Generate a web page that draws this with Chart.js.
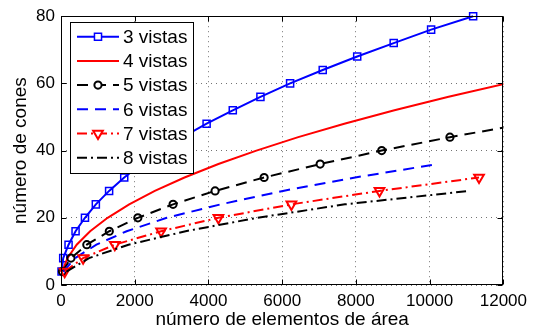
<!DOCTYPE html>
<html>
<head>
<meta charset="utf-8">
<script src="https://cdn.jsdelivr.net/npm/chart.js@4/dist/chart.umd.min.js"></script>
<style>
  html, body { margin: 0; padding: 0; background: #fff; }
  #wrap { width: 533px; height: 333px; }
</style>
</head>
<body>
<div id="wrap"><canvas id="c" width="533" height="333"></canvas></div>
<script>
// Legend labels, one per series
const seriesLabels = ['3 vistas', '4 vistas', '5 vistas', '6 vistas', '7 vistas', '8 vistas'];

// número de elementos de área (x) / número de cones (y) per series
const vistas3X = [15, 60, 205, 395, 650, 945, 1305, 1715, 2185, 2715, 3300, 3950, 4660, 5410, 6215, 7100, 8035, 9025, 10040, 11180];
const vistas3Y = [4, 8, 12, 16, 20, 24, 28, 32, 36, 40, 44, 48, 52, 56, 60, 64, 68, 72, 76, 80];

const vistas4X = [30, 175, 425, 790, 1265, 1850, 2545, 3350, 4270, 5300, 6435, 7685, 9045, 10515, 12095];
const vistas4Y = [4, 8, 12, 16, 20, 24, 28, 32, 36, 40, 44, 48, 52, 56, 60];

const vistas5X = [40, 270, 700, 1310, 2085, 3040, 4180, 5510, 7030, 8700, 10550, 12590];
const vistas5Y = [4, 8, 12, 16, 20, 24, 28, 32, 36, 40, 44, 48];

const vistas6X = [60, 380, 960, 1780, 2870, 4330, 6020, 7980, 10220];
const vistas6Y = [4, 8, 12, 16, 20, 24, 28, 32, 36];

const vistas7X = [100, 600, 1460, 2715, 4270, 6250, 8640, 11340];
const vistas7Y = [4, 8, 12, 16, 20, 24, 28, 32];

const vistas8X = [150, 760, 1830, 3380, 5320, 7700, 11070];
const vistas8Y = [4, 8, 12, 16, 20, 24, 28];

// Axis ticks and titles
const xTicks = [0, 2000, 4000, 6000, 8000, 10000, 12000];
const yTicks = [0, 20, 40, 60, 80];
const xTitle = 'número de elementos de área';
const yTitle = 'número de cones';

const FONT = '"Liberation Sans", Arial, Helvetica, sans-serif';
const toPoints = (xs, ys) => xs.map((x, i) => ({ x, y: ys[i] }));

const seriesX = [vistas3X, vistas4X, vistas5X, vistas6X, vistas7X, vistas8X];
const seriesY = [vistas3Y, vistas4Y, vistas5Y, vistas6Y, vistas7Y, vistas8Y];

// Line and marker look of each series
const styles = [
  { color: '#0000ff', dash: [],            point: 'rect',     radius: 5,   rotation: 0,   pw: 1.5 },
  { color: '#ff0000', dash: [],            point: false,      radius: 0,   rotation: 0,   pw: 0 },
  { color: '#000000', dash: [11, 7],       point: 'circle',   radius: 3.6, rotation: 0,   pw: 2 },
  { color: '#0000ff', dash: [11, 7],       point: false,      radius: 0,   rotation: 0,   pw: 0 },
  { color: '#ff0000', dash: [10, 4, 2, 4], point: 'triangle', radius: 5.6, rotation: 180, pw: 2 },
  { color: '#000000', dash: [10, 4, 2, 4], point: false,      radius: 0,   rotation: 0,   pw: 0 }
];

const datasets = seriesLabels.map((label, i) => {
  const s = styles[i];
  return {
    label,
    data: toPoints(seriesX[i], seriesY[i]),
    borderColor: s.color,
    backgroundColor: s.color,
    borderWidth: 2,
    borderDash: s.dash,
    tension: 0,
    fill: false,
    pointStyle: s.point || 'circle',
    pointRadius: s.radius,
    pointRotation: s.rotation,
    pointBorderWidth: s.pw,
    pointBorderColor: s.color,
    pointBackgroundColor: 'rgba(0,0,0,0)',
    pointHoverRadius: s.radius,
    clip: { left: 6, top: 8, right: 0, bottom: 8 },
    order: 6 - i
  };
});

// Box round the plot and inward tick marks on all four sides
const framePlugin = {
  id: 'frame',
  afterDatasetsDraw(chart) {
    const { ctx, chartArea: a, scales: { x, y } } = chart;
    const L = Math.round(a.left) + 0.5, R = Math.round(a.right) - 0.5;
    const T = Math.round(a.top) + 0.5, B = Math.round(a.bottom) - 0.5;
    ctx.save();
    ctx.strokeStyle = '#000';
    ctx.lineWidth = 1;
    ctx.beginPath();
    x.ticks.forEach(t => {
      const px = Math.round(x.getPixelForValue(t.value)) + 0.5;
      ctx.moveTo(px, B); ctx.lineTo(px, B - 5);
      ctx.moveTo(px, T); ctx.lineTo(px, T + 5);
    });
    y.ticks.forEach(t => {
      const py = Math.round(y.getPixelForValue(t.value)) + 0.5;
      ctx.moveTo(L, py); ctx.lineTo(L + 5, py);
      ctx.moveTo(R, py); ctx.lineTo(R - 5, py);
    });
    ctx.stroke();
    ctx.strokeRect(L, T, R - L, B - T);
    ctx.restore();
  }
};

// Boxed legend in the upper left corner of the plot
const boxLegendPlugin = {
  id: 'boxLegend',
  afterDraw(chart) {
    const { ctx, chartArea: a } = chart;
    const left = a.left + 9, top = a.top + 6, w = 123, h = 151;
    const rowH = 24.2, firstRow = top + 14.5;
    ctx.save();
    ctx.fillStyle = '#fff';
    ctx.fillRect(left, top, w, h);
    ctx.strokeStyle = '#000';
    ctx.lineWidth = 1;
    ctx.strokeRect(Math.round(left) + 0.5, Math.round(top) + 0.5, w, h);
    chart.data.datasets.forEach((ds, i) => {
      const cy = firstRow + i * rowH;
      const x0 = left + 7, x1 = left + 49, mx = (x0 + x1) / 2;
      ctx.save();
      ctx.strokeStyle = ds.borderColor;
      ctx.lineWidth = ds.borderWidth;
      ctx.setLineDash(ds.borderDash);
      ctx.beginPath();
      ctx.moveTo(x0, cy); ctx.lineTo(x1, cy);
      ctx.stroke();
      ctx.restore();
      if (ds.pointRadius > 0) {
        ctx.save();
        ctx.strokeStyle = ds.pointBorderColor;
        ctx.fillStyle = '#fff';
        ctx.lineWidth = ds.pointBorderWidth;
        ctx.setLineDash([]);
        Chart.helpers.drawPoint(ctx, {
          pointStyle: ds.pointStyle, radius: ds.pointRadius,
          rotation: ds.pointRotation, borderWidth: ds.pointBorderWidth
        }, mx, cy);
        ctx.restore();
      }
      ctx.fillStyle = '#000';
      ctx.font = '19px ' + FONT;
      ctx.textBaseline = 'middle';
      ctx.textAlign = 'left';
      ctx.fillText(ds.label, left + 53, cy + 1);
    });
    ctx.restore();
  }
};

new Chart(document.getElementById('c'), {
  type: 'line',
  data: { datasets },
  options: {
    responsive: false,
    animation: false,
    events: [],
    layout: { padding: { left: 0, right: 25, top: 13, bottom: 0 } },
    plugins: { legend: { display: false }, tooltip: { enabled: false } },
    scales: {
      x: {
        type: 'linear',
        min: 0, max: 12000,
        afterBuildTicks: s => { s.ticks = xTicks.map(v => ({ value: v })); },
        afterFit: s => { s.height = 48; },
        ticks: { color: '#000', font: { family: FONT, size: 17 }, padding: 6, maxRotation: 0, autoSkip: false,
                 callback: v => String(v) },
        grid: { color: 'rgba(0,0,0,0.55)', lineWidth: 1, drawTicks: false },
        border: { display: false, dash: [1, 4] },
        title: { display: true, text: xTitle, color: '#000', font: { family: FONT, size: 19 }, padding: { top: 0, bottom: 2 } }
      },
      y: {
        type: 'linear',
        min: 0, max: 80,
        afterBuildTicks: s => { s.ticks = yTicks.map(v => ({ value: v })); },
        afterFit: s => { s.width = 61; },
        ticks: { color: '#000', font: { family: FONT, size: 17 }, padding: 6, autoSkip: false,
                 callback: v => String(v) },
        grid: { color: 'rgba(0,0,0,0.55)', lineWidth: 1, drawTicks: false },
        border: { display: false, dash: [1, 4] },
        title: { display: true, text: yTitle, color: '#000', font: { family: FONT, size: 19 }, padding: { top: 9, bottom: 0 } }
      }
    }
  },
  plugins: [framePlugin, boxLegendPlugin]
});
</script>
</body>
</html>
